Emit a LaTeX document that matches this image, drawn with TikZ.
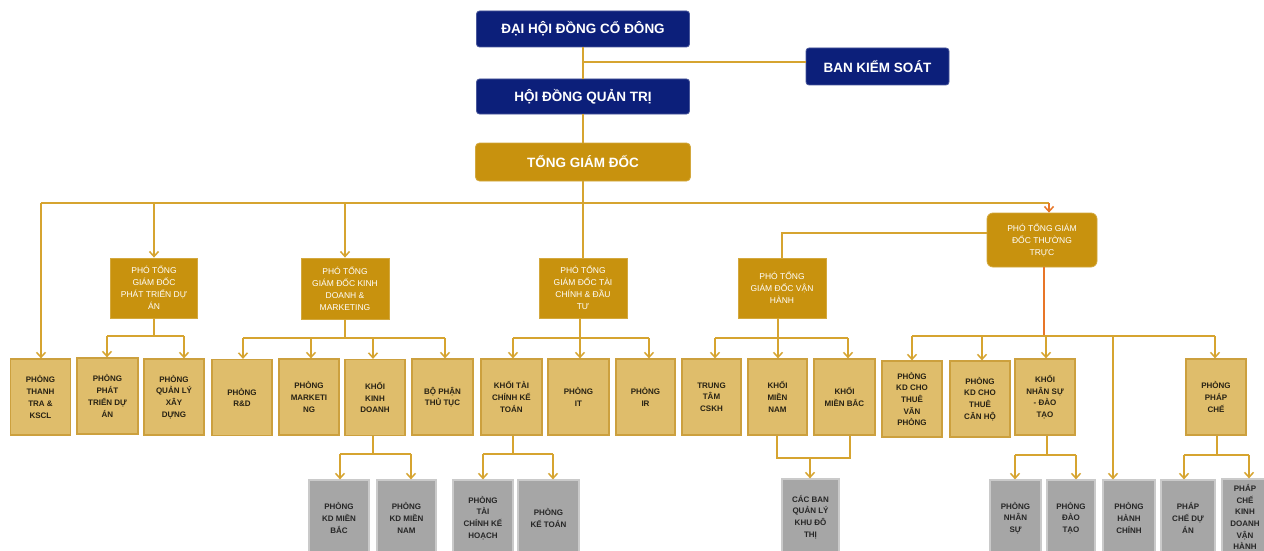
\documentclass[tikz,border=0pt]{standalone}
\usepackage{fontspec}
\setmainfont{Liberation Sans}
\usetikzlibrary{arrows.meta}
\definecolor{navy}{RGB}{12,31,122}
\definecolor{goldD}{RGB}{200,146,14}
\definecolor{goldL}{RGB}{223,189,107}
\definecolor{goldB}{RGB}{204,160,62}
\definecolor{lineC}{RGB}{214,164,48}
\definecolor{grayF}{RGB}{166,166,166}
\definecolor{grayB}{RGB}{202,202,202}
\definecolor{orangeC}{RGB}{232,118,40}
\definecolor{txtD}{RGB}{40,34,20}
\begin{document}
\begin{tikzpicture}[x=1pt,y=-1pt,
  topbox/.style={fill=navy, draw=navy!75!white, line width=0.8pt, rounded corners=3pt, text=white,
    font=\fontsize{13.5}{15}\selectfont\bfseries, inner sep=0pt},
  ceobox/.style={fill=goldD, draw=goldD!80!white, line width=0.8pt, rounded corners=4pt, text=white,
    font=\fontsize{13.5}{15}\selectfont\bfseries, inner sep=0pt},
  vpbox/.style={fill=goldD, draw=goldD!80!white, line width=0.8pt, text=white,
    font=\fontsize{8.5}{12}\selectfont, align=center, inner sep=0pt},
  deptbox/.style={fill=goldL, draw=goldB, line width=1.2pt, text=txtD,
    font=\fontsize{8}{11.7}\selectfont\bfseries, align=center, inner sep=0pt,
    minimum width=60pt, minimum height=76pt},
  subbox/.style={fill=grayF, draw=grayB, line width=1.2pt, text=black!85,
    font=\fontsize{8}{11.7}\selectfont\bfseries, align=center, inner sep=0pt,
    minimum height=76pt},
  ln/.style={draw=lineC, line width=1.5pt},
  arr/.style={ln, -{Straight Barb[length=5pt,width=9pt]}},
]
\useasboundingbox (0,0) rectangle (1264,551);
\clip (0,0) rectangle (1264,551);
\fill[white] (0,0) rectangle (1264,551);

% ---- top level
\node[topbox, minimum width=213pt, minimum height=36pt] (dh) at (583,29) {ĐẠI HỘI ĐỒNG CỔ ĐÔNG};
\node[topbox, minimum width=143pt, minimum height=37pt] (bks) at (877.5,66.5) {BAN KIỂM SOÁT};
\node[topbox, minimum width=213pt, minimum height=35pt] (hd) at (583,96.5) {HỘI ĐỒNG QUẢN TRỊ};
\node[ceobox, minimum width=215pt, minimum height=38pt] (tgd) at (583,162) {TỔNG GIÁM ĐỐC};

% ---- deputies
\node[vpbox, minimum width=87pt, minimum height=60pt] (ptda) at (154,288) {PHÓ TỔNG\\GIÁM ĐỐC\\PHÁT TRIỂN DỰ\\ÁN};
\node[vpbox, minimum width=88pt, minimum height=61pt] (kd) at (345,288.5) {PHÓ TỔNG\\GIÁM ĐỐC KINH\\DOANH \&\\MARKETING};
\node[vpbox, minimum width=88pt, minimum height=60pt] (tc) at (583,288) {PHÓ TỔNG\\GIÁM ĐỐC TÀI\\CHÍNH \& ĐẦU\\TƯ};
\node[vpbox, minimum width=88pt, minimum height=60pt] (vh) at (782,288) {PHÓ TỔNG\\GIÁM ĐỐC VẬN\\HÀNH};
\node[vpbox, rounded corners=6pt, minimum width=110pt, minimum height=54pt] (tt) at (1042,240) {PHÓ TỔNG GIÁM\\ĐỐC THƯỜNG\\TRỰC};

% ---- departments
\node[deptbox] (d1) at (40.5,397) {PHÒNG\\THANH\\TRA \&\\KSCL};
\node[deptbox, minimum width=61pt] (d2) at (107.5,396) {PHÒNG\\PHÁT\\TRIỂN DỰ\\ÁN};
\node[deptbox] (d3) at (174,397) {PHÒNG\\QUẢN LÝ\\XÂY\\DỰNG};
\node[deptbox] (d4) at (242,397.5) {PHÒNG\\R\&D};
\node[deptbox] (d5) at (309,397) {PHÒNG\\MARKETI\\NG};
\node[deptbox] (d6) at (375,397.5) {KHỐI\\KINH\\DOANH};
\node[deptbox, minimum width=61pt] (d7) at (442.5,397) {BỘ PHẬN\\THỦ TỤC};
\node[deptbox, minimum width=61pt] (d8) at (511.5,397) {KHỐI TÀI\\CHÍNH KẾ\\TOÁN};
\node[deptbox, minimum width=61pt] (d9) at (578.5,397) {PHÒNG\\IT};
\node[deptbox, minimum width=59pt] (d10) at (645.5,397) {PHÒNG\\IR};
\node[deptbox, minimum width=59pt] (d11) at (711.5,397) {TRUNG\\TÂM\\CSKH};
\node[deptbox, minimum width=59pt] (d12) at (777.5,397) {KHỐI\\MIỀN\\NAM};
\node[deptbox, minimum width=61pt] (d13) at (844.5,397) {KHỐI\\MIỀN BẮC};
\node[deptbox] (d14) at (912,399) {PHÒNG\\KD CHO\\THUÊ\\VĂN\\PHÒNG};
\node[deptbox] (d15) at (980,399) {PHÒNG\\KD CHO\\THUÊ\\CĂN HỘ};
\node[deptbox] (d16) at (1045,397) {KHỐI\\NHÂN SỰ\\- ĐÀO\\TẠO};
\node[deptbox] (d17) at (1216,397) {PHÒNG\\PHÁP\\CHẾ};

% ---- sub departments
\node[subbox, minimum width=60pt] (s1) at (339,518) {PHÒNG\\KD MIỀN\\BẮC};
\node[subbox, minimum width=59pt] (s2) at (406.5,518) {PHÒNG\\KD MIỀN\\NAM};
\node[subbox, minimum width=60pt] (s3) at (483,518) {PHÒNG\\TÀI\\CHÍNH KẾ\\HOẠCH};
\node[subbox, minimum width=61pt] (s4) at (548.5,518) {PHÒNG\\KẾ TOÁN};
\node[subbox, minimum width=57pt] (s5) at (810.5,517) {CÁC BAN\\QUẢN LÝ\\KHU ĐÔ\\THỊ};
\node[subbox, minimum width=51pt] (s6) at (1015.5,518) {PHÒNG\\NHÂN\\SỰ};
\node[subbox, minimum width=48pt] (s7) at (1071,518) {PHÒNG\\ĐÀO\\TẠO};
\node[subbox, minimum width=52pt] (s8) at (1129,518) {PHÒNG\\HÀNH\\CHÍNH};
\node[subbox, minimum width=54pt] (s9) at (1188,518) {PHÁP\\CHẾ DỰ\\ÁN};
\node[subbox, minimum width=46pt] (s10) at (1245,517) {PHÁP\\CHẾ\\KINH\\DOANH\\VẬN\\HÀNH};

% ---- connectors: top
\draw[ln] (dh.south) -- (hd.north);
\draw[ln] (hd.south) -- (tgd.north);
\coordinate (bk) at (583,62);
\draw[ln] (bk) -- (bk -| bks.west);

% main bus
\coordinate (bL) at (41,203);
\coordinate (bR) at (1049,203);
\coordinate (bC) at (583,203);
\draw[ln] (tgd.south) -- (bC);
\draw[ln] (bL) -- (bR);
\draw[arr] (bL) -- (bL |- d1.north);
\draw[arr] (ptda.north |- bL) -- (ptda.north);
\draw[arr] (kd.north |- bL) -- (kd.north);
\draw[ln] (bC) -- (tc.north);
\draw[arr, draw=orangeC] (bR) -- (bR |- tt.north);
\coordinate (vj) at (782,233);
\draw[ln] (tt.west |- vj) -- (vj) -- (vh.north);

% PTDA
\draw[ln] (ptda.south) -- (ptda.south |- 0,336);
\draw[ln] (107,336) -- (184,336);
\foreach \x/\n in {107/d2,184/d3} \draw[arr] (\x,336) -- (\x,336 |- \n.north);

% KD
\draw[ln] (kd.south) -- (kd.south |- 0,338);
\draw[ln] (243,338) -- (445,338);
\foreach \x/\n in {243/d4,311/d5,373/d6,445/d7} \draw[arr] (\x,338) -- (\x,338 |- \n.north);

% TC
\draw[arr] (580,0 |- tc.south) -- (580,0 |- d9.north);
\draw[ln] (513,338) -- (649,338);
\foreach \x/\n in {513/d8,649/d10} \draw[arr] (\x,338) -- (\x,338 |- \n.north);

% VH
\draw[arr] (778,0 |- vh.south) -- (778,0 |- d12.north);
\draw[ln] (715,338) -- (848,338);
\foreach \x/\n in {715/d11,848/d13} \draw[arr] (\x,338) -- (\x,338 |- \n.north);

% TT
\draw[ln, draw=orangeC] (1044,0 |- tt.south) -- (1044,336);
\draw[ln] (912,336) -- (1215,336);
\foreach \x/\n in {912/d14,982/d15,1046/d16,1215/d17} \draw[arr] (\x,336) -- (\x,336 |- \n.north);
\draw[arr] (1113,336) -- (1113,336 |- s8.north);

% level 4
\draw[ln] (373,0 |- d6.south) -- (373,454);
\draw[ln] (340,454) -- (411,454);
\foreach \x/\n in {340/s1,411/s2} \draw[arr] (\x,454) -- (\x,454 |- \n.north);

\draw[ln] (513,0 |- d8.south) -- (513,454);
\draw[ln] (483,454) -- (553,454);
\foreach \x/\n in {483/s3,553/s4} \draw[arr] (\x,454) -- (\x,454 |- \n.north);

\draw[ln] (777,0 |- d12.south) -- (777,458) -- (850,458) -- (850,0 |- d13.south);
\draw[arr] (810,458) -- (810,458 |- s5.north);

\draw[ln] (1047,0 |- d16.south) -- (1047,455);
\draw[ln] (1015,455) -- (1076,455);
\foreach \x/\n in {1015/s6,1076/s7} \draw[arr] (\x,455) -- (\x,455 |- \n.north);

\draw[ln] (1217,0 |- d17.south) -- (1217,455);
\draw[ln] (1184,455) -- (1249,455);
\foreach \x/\n in {1184/s9,1249/s10} \draw[arr] (\x,455) -- (\x,455 |- \n.north);
\end{tikzpicture}
\end{document}
